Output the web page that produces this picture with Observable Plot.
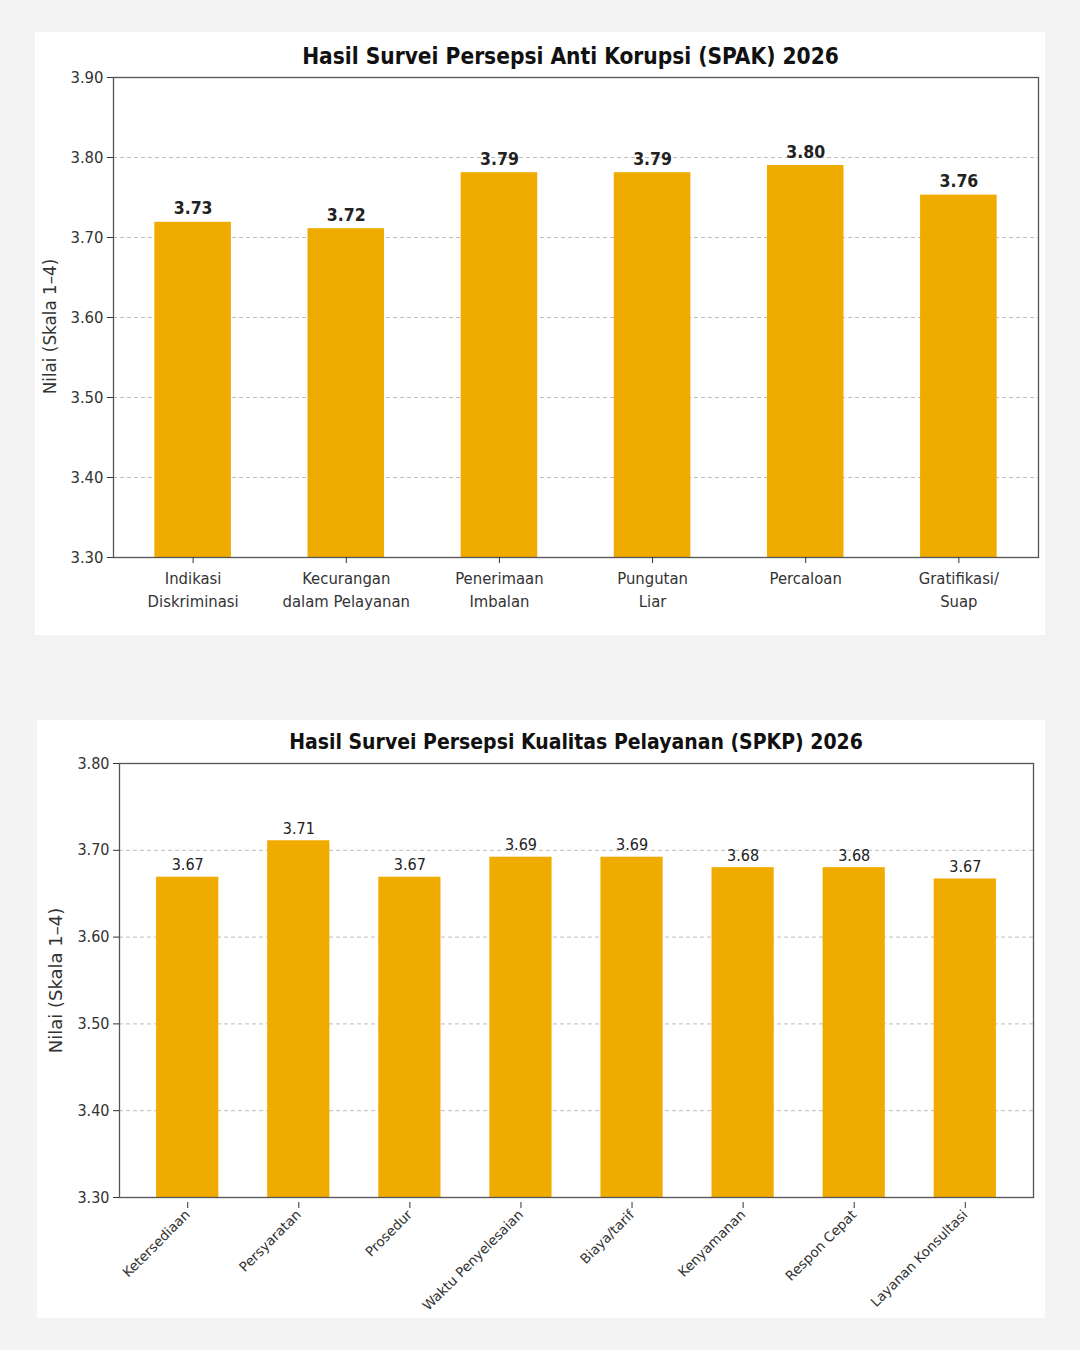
<!DOCTYPE html>
<html><head><meta charset="utf-8">
<script src="https://cdn.jsdelivr.net/npm/d3@7"></script>
<script src="https://cdn.jsdelivr.net/npm/@observablehq/plot@0.6"></script>
<style>
html,body{margin:0;padding:0;background:#f3f3f3;}
body{width:1080px;height:1350px;position:relative;overflow:hidden;font-family:"DejaVu Sans Condensed","DejaVu Sans",sans-serif;}
.panel{position:absolute;background:#fff;}
.title{position:absolute;text-align:center;font-weight:bold;color:#111;white-space:nowrap;}
.panel svg{position:absolute;overflow:visible;}
</style></head><body>
<div class="panel" id="p1" style="left:35px;top:32px;width:1010px;height:603px">
  <div class="title" style="left:78px;right:17px;top:8px;font-size:22.5px;line-height:32px">Hasil Survei Persepsi Anti Korupsi (SPAK) 2026</div>
</div>
<div class="panel" id="p2" style="left:37px;top:720px;width:1008px;height:598px">
  <div class="title" style="left:82px;right:12px;top:7px;font-size:21px;line-height:30px">Hasil Survei Persepsi Kualitas Pelayanan (SPKP) 2026</div>
</div>
<script>
// ---- SPAK data ----
const spakCategories = ["Indikasi Diskriminasi","Kecurangan dalam Pelayanan","Penerimaan Imbalan","Pungutan Liar","Percaloan","Gratifikasi/Suap"];
const spakTickLabels = ["Indikasi\nDiskriminasi","Kecurangan\ndalam Pelayanan","Penerimaan\nImbalan","Pungutan\nLiar","Percaloan","Gratifikasi/\nSuap"];
const spakValues = [3.719, 3.711, 3.781, 3.781, 3.790, 3.753];
const spakLabels = ["3.73","3.72","3.79","3.79","3.80","3.76"];
const spakTicks = [3.30, 3.40, 3.50, 3.60, 3.70, 3.80, 3.90];

// ---- SPKP data ----
const spkpCategories = ["Ketersediaan","Persyaratan","Prosedur","Waktu Penyelesaian","Biaya/tarif","Kenyamanan","Respon Cepat","Layanan Konsultasi"];
const spkpValues = [3.669, 3.711, 3.669, 3.692, 3.692, 3.680, 3.680, 3.667];
const spkpLabels = ["3.67","3.71","3.67","3.69","3.69","3.68","3.68","3.67"];
const spkpTicks = [3.30, 3.40, 3.50, 3.60, 3.70, 3.80];

const yLabel = "Nilai (Skala 1–4)";
const barColor = "#f0ab00";
const fmt = d3.format(".2f");
const baseStyle = {fontFamily: '"DejaVu Sans Condensed","DejaVu Sans",sans-serif', color: "#333", background: "transparent", overflow: "visible"};

const spak = spakCategories.map((c, i) => ({cat: c, value: spakValues[i], label: spakLabels[i], tick: spakTickLabels[i]}));
const spkp = spkpCategories.map((c, i) => ({cat: c, value: spkpValues[i], label: spkpLabels[i]}));

const chart1 = Plot.plot({
  width: 1010, height: 568,
  marginTop: 10, marginBottom: 78, marginLeft: 78, marginRight: 7,
  style: baseStyle,
  x: {domain: spakCategories, paddingInner: 0.5, paddingOuter: 0.27, round: false},
  y: {domain: [spakTicks[0], spakTicks[spakTicks.length - 1]]},
  marks: [
    Plot.gridY(spakTicks, {stroke: "#bdbdbd", strokeOpacity: 1, strokeDasharray: "4,3"}),
    Plot.barY(spak, {x: "cat", y1: () => spakTicks[0], y2: "value", fill: barColor}),
    Plot.text(spak, {x: "cat", y: "value", text: "label", lineAnchor: "bottom", dy: -8, fontSize: 17.5, fontWeight: "bold", fill: "#222"}),
    Plot.frame({stroke: "#555", strokeWidth: 1.3}),
    Plot.axisY({ticks: spakTicks, tickFormat: fmt, tickSize: 6, tickPadding: 4, fontSize: 16.5, label: null, color: "#333"}),
    Plot.text([yLabel], {text: d => d, frameAnchor: "left", textAnchor: "middle", rotate: -90, lineAnchor: "top", dx: -69, dy: 9, fontSize: 16.8, fontFamily: '"DejaVu Sans",sans-serif', fill: "#333"}),
    Plot.axisX({tickFormat: d => spak.find(r => r.cat === d).tick, tickSize: 6, tickPadding: 5, fontSize: 16.5, lineHeight: 1.35, label: null, color: "#333"})
  ]
});
chart1.style.left = "0px"; chart1.style.top = "35px";
document.getElementById("p1").appendChild(chart1);

const chart2 = Plot.plot({
  width: 1008, height: 568,
  marginTop: 13, marginBottom: 121, marginLeft: 82, marginRight: 12,
  style: baseStyle,
  x: {domain: spkpCategories, paddingInner: 0.44, paddingOuter: 0.334, round: false},
  y: {domain: [spkpTicks[0], spkpTicks[spkpTicks.length - 1]]},
  marks: [
    Plot.gridY(spkpTicks, {stroke: "#bdbdbd", strokeOpacity: 1, strokeDasharray: "4,3"}),
    Plot.barY(spkp, {x: "cat", y1: () => spkpTicks[0], y2: "value", fill: barColor}),
    Plot.text(spkp, {x: "cat", y: "value", text: "label", lineAnchor: "bottom", dy: -7, fontSize: 16, fill: "#222"}),
    Plot.frame({stroke: "#555", strokeWidth: 1.3}),
    Plot.axisY({ticks: spkpTicks, tickFormat: fmt, tickSize: 6, tickPadding: 4, fontSize: 16, label: null, color: "#333"}),
    Plot.text([yLabel], {text: d => d, frameAnchor: "left", textAnchor: "middle", rotate: -90, lineAnchor: "top", dx: -70, fontSize: 18, fontFamily: '"DejaVu Sans",sans-serif', fill: "#333"}),
    Plot.axisX({tickRotate: -45, tickSize: 6, tickPadding: 4, dy: 5, fontSize: 13.5, fontFamily: '"DejaVu Sans",sans-serif', label: null, color: "#333"})
  ]
});
chart2.style.left = "0px"; chart2.style.top = "30px";
document.getElementById("p2").appendChild(chart2);
</script>
</body></html>
